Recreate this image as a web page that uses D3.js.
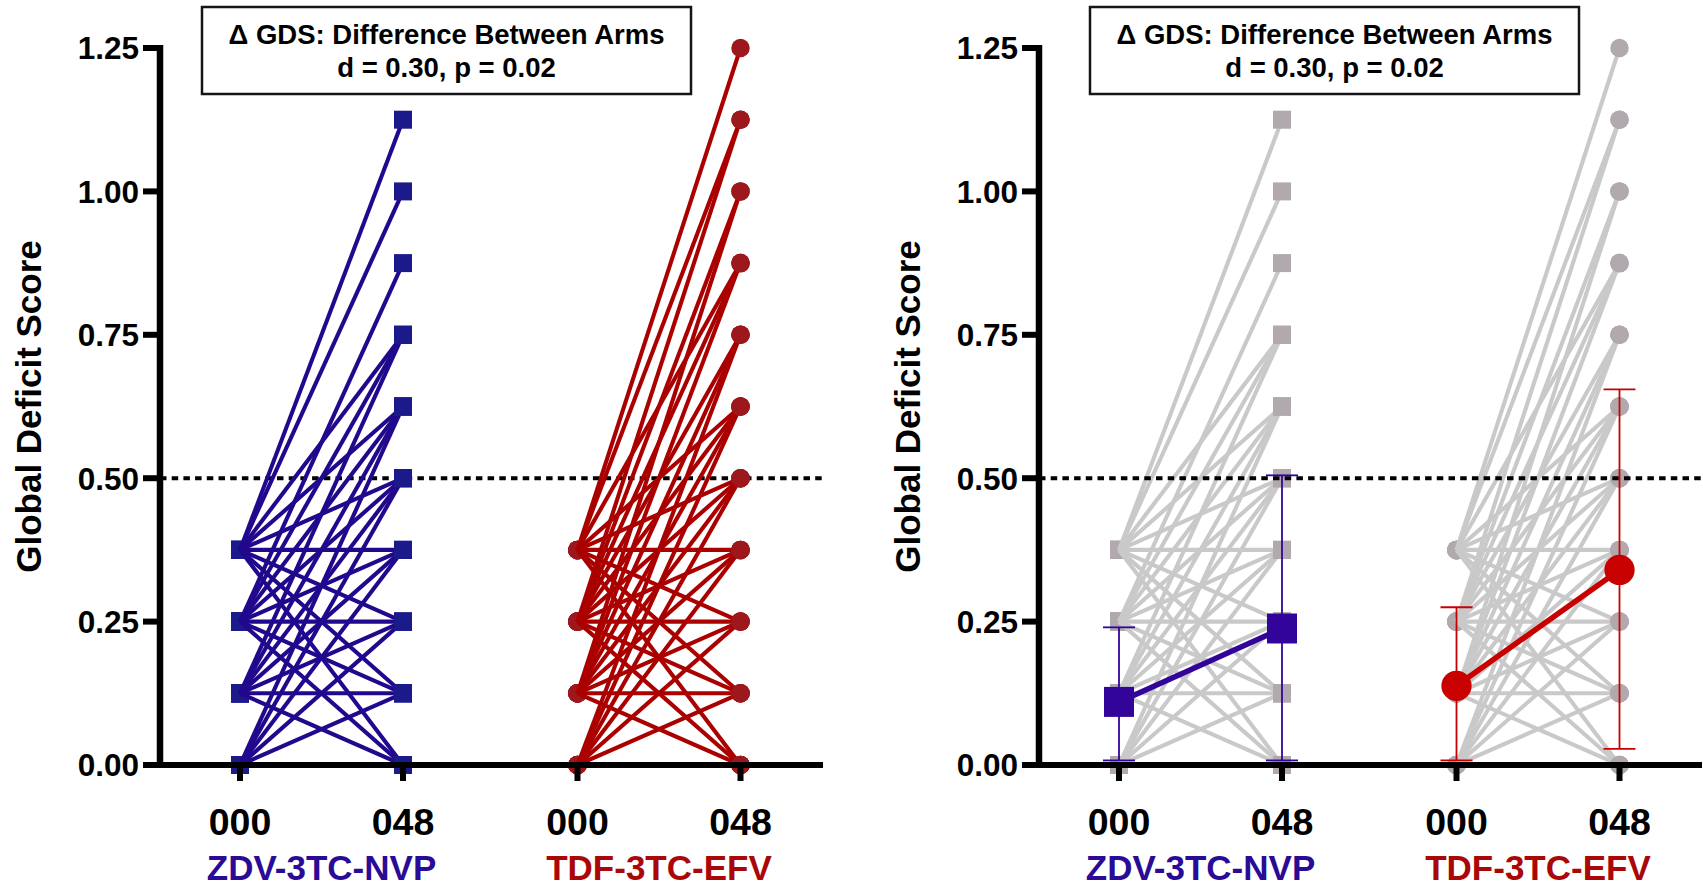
<!DOCTYPE html>
<html>
<head>
<meta charset="utf-8">
<script src="https://cdn.jsdelivr.net/npm/d3@7"></script>
<style>
  html, body { margin: 0; padding: 0; background: #fff; }
  svg { display: block; font-family: "Liberation Sans", Arial, Helvetica, sans-serif; font-weight: bold; }
</style>
</head>
<body>
<svg id="chart" width="1703" height="888"></svg>
<script>
// ---- Categories and ticks ----
const arms = ["ZDV-3TC-NVP", "TDF-3TC-EFV"];
const visits = ["000", "048"];
const yTicks = [0, 0.25, 0.5, 0.75, 1.0, 1.25];
const impairmentCutoff = 0.5;
const yTitle = "Global Deficit Score";
const boxLines = ["\u0394 GDS: Difference Between Arms", "d = 0.30, p = 0.02"];

// ---- Participant GDS, week 0 paired with week 48 by index ----
const zdvWeek0  = [0.375, 0.375, 0.25, 0.375, 0.25, 0.125,
                   0.375, 0.25, 0.125, 0,
                   0.375, 0.25, 0.125, 0,
                   0.375, 0.25, 0.125, 0,
                   0.375, 0.25, 0.125, 0,
                   0.375, 0.25, 0.125, 0,
                   0.375, 0.25, 0.125, 0];
const zdvWeek48 = [1.125, 1.0, 0.875, 0.75, 0.75, 0.75,
                   0.625, 0.625, 0.625, 0.625,
                   0.5, 0.5, 0.5, 0.5,
                   0.375, 0.375, 0.375, 0.375,
                   0.25, 0.25, 0.25, 0.25,
                   0.125, 0.125, 0.125, 0.125,
                   0, 0, 0, 0];

const tdfWeek0  = [0.375, 0.375, 0.25, 0.25, 0.125,
                   0.375, 0.25, 0.125, 0.25, 0.125, 0,
                   0.375, 0.25, 0.125, 0,
                   0.375, 0.25, 0.125, 0,
                   0.375, 0.25, 0.125, 0,
                   0.375, 0.25, 0.125, 0,
                   0.375, 0.25, 0.125, 0,
                   0.375, 0.25, 0.125, 0];
const tdfWeek48 = [1.25, 1.125, 1.125, 1.0, 1.0,
                   0.875, 0.875, 0.875, 0.75, 0.75, 0.75,
                   0.625, 0.625, 0.625, 0.625,
                   0.5, 0.5, 0.5, 0.5,
                   0.375, 0.375, 0.375, 0.375,
                   0.25, 0.25, 0.25, 0.25,
                   0.125, 0.125, 0.125, 0.125,
                   0, 0, 0, 0];

// ---- Arm summaries at week 0 and week 48 ----
const zdvMean  = [0.110, 0.238];
const zdvLower = [0.008, 0.008];
const zdvUpper = [0.240, 0.505];
const tdfMean  = [0.138, 0.340];
const tdfLower = [0.008, 0.028];
const tdfUpper = [0.275, 0.655];

// ---- Styling ----
const armStyle = {
  "ZDV-3TC-NVP": { line: "#22088d", marker: "#1b1a8b", label: "#2a0b97", mean: "#33049a", shape: d3.symbolSquare },
  "TDF-3TC-EFV": { line: "#aa0000", marker: "#9d181c", label: "#aa0808", mean: "#c80000", shape: d3.symbolCircle }
};
const greyLine = "#c9c9c9";
const greyMarker = "#b2a9af";

const arm = {
  "ZDV-3TC-NVP": { w0: zdvWeek0, w48: zdvWeek48, mean: zdvMean, lo: zdvLower, hi: zdvUpper },
  "TDF-3TC-EFV": { w0: tdfWeek0, w48: tdfWeek48, mean: tdfMean, lo: tdfLower, hi: tdfUpper }
};

// ---- Layout ----
const panels = [
  { offset: 0,   summary: false, boxX: 202 },
  { offset: 879, summary: true,  boxX: 211 }
];
const axisX = 160, axisRight = 823;

const y = d3.scaleLinear().domain([0, 1.25]).range([765, 48]);
const xArm = d3.scalePoint().domain(arms).range([321.5, 659]);
const xVisit = d3.scalePoint().domain(visits).range([-81.5, 81.5]);
const xPos = (a, v) => xArm(a) + xVisit(v);

const svg = d3.select("#chart");

function symbolPath(shape, area) {
  return d3.symbol().type(shape).size(area)();
}

function participants(a) {
  const d = arm[a];
  return d.w0.map((v, i) => ({ w0: v, w48: d.w48[i] }));
}

const seg = d3.line().x(d => d[0]).y(d => d[1]);

panels.forEach(p => {
  const g = svg.append("g").attr("transform", `translate(${p.offset},0)`);

  const cutoff = () => g.append("line")
    .attr("x1", axisX).attr("x2", axisRight)
    .attr("y1", y(impairmentCutoff)).attr("y2", y(impairmentCutoff))
    .attr("stroke", "#000").attr("stroke-width", 4)
    .attr("stroke-dasharray", "6.5 5.2");

  if (!p.summary) cutoff();

  // individual trajectories
  arms.forEach(a => {
    const st = armStyle[a];
    const lineColor = p.summary ? greyLine : st.line;
    const markColor = p.summary ? greyMarker : st.marker;
    const area = st.shape === d3.symbolSquare ? 324 : 270;
    const pts = participants(a);
    const ga = g.append("g");

    ga.selectAll("path.m0").data(pts).join("path")
      .attr("class", "m0")
      .attr("d", symbolPath(st.shape, area))
      .attr("transform", d => `translate(${xPos(a, "000")},${y(d.w0)})`)
      .attr("fill", markColor);

    ga.selectAll("path.traj").data(pts).join("path")
      .attr("class", "traj")
      .attr("d", d => seg([[xPos(a, "000"), y(d.w0)], [xPos(a, "048"), y(d.w48)]]))
      .attr("fill", "none")
      .attr("stroke", lineColor)
      .attr("stroke-width", 4.1);

    ga.selectAll("path.m48").data(pts).join("path")
      .attr("class", "m48")
      .attr("d", symbolPath(st.shape, area))
      .attr("transform", d => `translate(${xPos(a, "048")},${y(d.w48)})`)
      .attr("fill", markColor);
  });

  if (p.summary) {
    cutoff();
    arms.forEach(a => {
      const st = armStyle[a];
      const d = arm[a];
      const gs = g.append("g");
      visits.forEach((v, i) => {
        const cx = xPos(a, v);
        gs.append("line").attr("x1", cx).attr("x2", cx)
          .attr("y1", y(d.hi[i])).attr("y2", y(d.lo[i]))
          .attr("stroke", st.mean).attr("stroke-width", 1.8);
        [d.hi[i], d.lo[i]].forEach(val => {
          gs.append("line").attr("x1", cx - 16).attr("x2", cx + 16)
            .attr("y1", y(val)).attr("y2", y(val))
            .attr("stroke", st.mean).attr("stroke-width", 1.8);
        });
      });
      gs.append("path")
        .attr("d", seg(visits.map((v, i) => [xPos(a, v), y(d.mean[i])])))
        .attr("stroke", st.mean).attr("stroke-width", 5.5).attr("fill", "none");
      const area = st.shape === d3.symbolSquare ? 900 : 720;
      visits.forEach((v, i) => {
        gs.append("path")
          .attr("d", symbolPath(st.shape, area))
          .attr("transform", `translate(${xPos(a, v)},${y(d.mean[i])})`)
          .attr("fill", st.mean);
      });
    });
  }

  // y axis
  g.append("line").attr("x1", axisX).attr("x2", axisX)
    .attr("y1", y(1.25) - 3).attr("y2", y(0) + 3)
    .attr("stroke", "#000").attr("stroke-width", 6.5);
  g.selectAll("line.ytick").data(yTicks).join("line")
    .attr("class", "ytick")
    .attr("x1", axisX - 17).attr("x2", axisX)
    .attr("y1", d => y(d)).attr("y2", d => y(d))
    .attr("stroke", "#000").attr("stroke-width", 6);
  g.selectAll("text.ylab").data(yTicks).join("text")
    .attr("class", "ylab")
    .attr("x", axisX - 21).attr("y", d => y(d)).attr("dy", "0.36em")
    .attr("text-anchor", "end").attr("font-size", 31.5)
    .text(d3.format(".2f"));

  // x axis
  g.append("line").attr("x1", axisX - 3).attr("x2", axisRight)
    .attr("y1", y(0)).attr("y2", y(0))
    .attr("stroke", "#000").attr("stroke-width", 6);
  arms.forEach(a => {
    visits.forEach(v => {
      g.append("line").attr("x1", xPos(a, v)).attr("x2", xPos(a, v))
        .attr("y1", y(0)).attr("y2", y(0) + 16)
        .attr("stroke", "#000").attr("stroke-width", 6);
      g.append("text").attr("x", xPos(a, v)).attr("y", 835)
        .attr("text-anchor", "middle").attr("font-size", 37.5)
        .text(v);
    });
    g.append("text").attr("x", xArm(a)).attr("y", 880)
      .attr("text-anchor", "middle").attr("font-size", 35)
      .attr("fill", armStyle[a].label)
      .text(a);
  });

  // y title
  g.append("text")
    .attr("transform", `translate(41,${(y(0) + y(1.25)) / 2}) rotate(-90)`)
    .attr("text-anchor", "middle").attr("font-size", 35)
    .text(yTitle);

  // statistics box
  const bx = p.boxX, bw = 489;
  g.append("rect").attr("x", bx).attr("y", 7).attr("width", bw).attr("height", 87)
    .attr("fill", "#fff").attr("stroke", "#151515").attr("stroke-width", 2.5);
  boxLines.forEach((t, i) => {
    g.append("text").attr("x", bx + bw / 2).attr("y", i === 0 ? 44 : 77)
      .attr("text-anchor", "middle").attr("font-size", 27.5)
      .text(t);
  });
});
</script>
</body>
</html>
